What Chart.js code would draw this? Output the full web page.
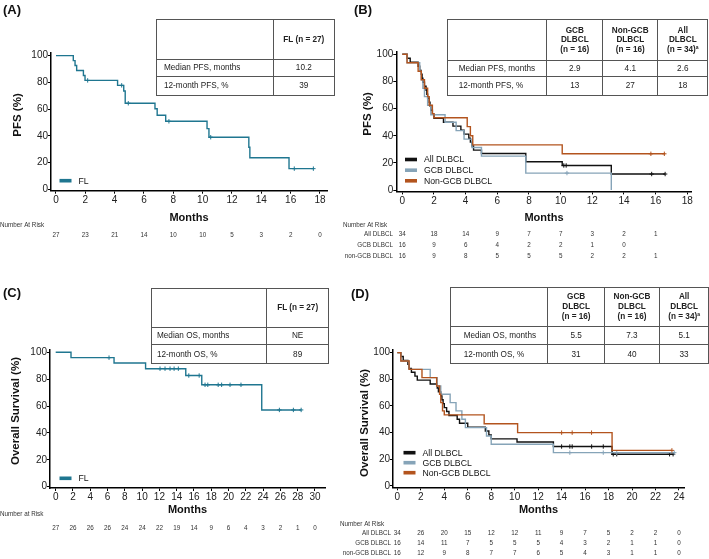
<!DOCTYPE html>
<html>
<head>
<meta charset="utf-8">
<script src="https://cdn.jsdelivr.net/npm/chart.js@4.4.1/dist/chart.umd.min.js"></script>
<style>
  body { margin: 0; background: #fff; width: 709px; height: 559px; position: relative; overflow: hidden;
         font-family: "Liberation Sans", Arial, sans-serif; color: #111; }
  canvas { position: absolute; left: 0; top: 0; }
  .plabel { position: absolute; font-weight: bold; font-size: 13px; line-height: 13px; }
  .ytitle { position: absolute; font-weight: bold; font-size: 11.5px; white-space: nowrap;
            transform: translate(-50%, -50%) rotate(-90deg); }
  table.st { position: absolute; border-collapse: collapse; table-layout: fixed; font-size: 8.2px; color: #222; }
  table.st td { border: 1px solid #555; padding: 0; vertical-align: middle; }
  table.st td.h { font-weight: bold; text-align: center; line-height: 9.7px; }
  table.st td.v { text-align: center; }
  table.st .sup { font-size: 5px; position: relative; top: -3px; line-height: 0; }
</style>
</head>
<body>
<script>
// ---- data: times (months) and survival (%) ----
const xTicksA = [0, 2, 4, 6, 8, 10, 12, 14, 16, 18];
const xTicksC = [0, 2, 4, 6, 8, 10, 12, 14, 16, 18, 20, 22, 24, 26, 28, 30];
const xTicksD = [0, 2, 4, 6, 8, 10, 12, 14, 16, 18, 20, 22, 24];
const yTicks = [0, 20, 40, 60, 80, 100];

// (A) FL PFS
const flPfsTime = [0, 1.18, 1.3, 1.41, 1.87, 1.98, 4.2, 4.62, 4.72, 6.75, 6.9, 7.48, 10.3, 10.43, 13.15, 13.22, 15.89, 17.55];
const flPfsSurv = [100, 96.3, 92.6, 88.9, 85.2, 81.5, 77.8, 73.6, 64.4, 60.3, 55.4, 50.9, 45.4, 39.0, 31.5, 23.6, 15.5, 15.5];
const flPfsCensor = [2.16, 4.48, 4.93, 7.7, 10.55, 16.25, 17.55];

// (B) DLBCL PFS
const allPfsTime = [0, 0.3, 0.5, 1.0, 1.1, 1.2, 1.25, 1.3, 1.4, 1.5, 1.55, 1.6, 1.7, 1.75, 1.8, 1.9, 2.0, 2.6, 3.2, 3.7, 3.9, 4.2, 4.3, 4.4, 4.5, 5.0, 7.8, 10.1, 13.2, 16.6];
const allPfsSurv = [100, 97.1, 94.1, 91.2, 88.2, 85.3, 82.4, 79.4, 76.5, 73.5, 70.6, 67.6, 64.7, 61.8, 58.8, 55.9, 52.9, 50.0, 47.1, 44.1, 41.2, 38.2, 35.3, 32.4, 29.4, 26.9, 20.9, 18.1, 11.8, 11.8];
const allPfsCensor = [10.2, 10.35, 15.75, 16.6];
const gcbPfsTime = [0, 0.3, 1.1, 1.2, 1.3, 1.4, 1.6, 1.8, 2.7, 3.4, 3.9, 4.4, 5.0, 7.8, 13.2];
const gcbPfsSurv = [100, 93.8, 87.5, 81.3, 75.0, 68.8, 62.5, 55.5, 50.0, 43.8, 37.5, 31.3, 25.0, 12.5, 0];
const gcbPfsCensor = [10.4];
const nonPfsTime = [0, 0.3, 1.0, 1.2, 1.4, 1.6, 1.7, 1.9, 2.0, 4.1, 4.3, 4.45, 10.1, 16.6];
const nonPfsSurv = [100, 93.8, 87.5, 81.3, 75.0, 68.8, 62.5, 56.3, 53.3, 46.7, 40.0, 33.3, 26.7, 26.7];
const nonPfsCensor = [15.7, 16.55];

// (C) FL OS
const flOsTime = [0, 1.77, 6.75, 10.4, 15.05, 16.9, 23.84, 28.4];
const flOsSurv = [100, 96.0, 92.0, 87.8, 82.7, 75.8, 57.1, 57.1];
const flOsCensor = [6.17, 12.07, 12.65, 13.23, 13.7, 14.19, 15.4, 16.6, 17.28, 17.6, 18.8, 19.2, 20.17, 21.44, 25.88, 27.5, 28.4];

// (D) DLBCL OS
const allOsTime = [0, 0.3, 0.5, 0.9, 1.0, 1.2, 1.5, 1.7, 2.8, 3.4, 3.5, 3.7, 3.8, 3.9, 4.0, 4.2, 4.4, 5.1, 5.3, 6.0, 7.5, 7.8, 8.0, 10.2, 13.3, 18.3, 23.6];
const allOsSurv = [100, 97.1, 94.1, 91.2, 88.2, 85.3, 82.4, 79.4, 76.5, 73.5, 70.6, 67.6, 64.7, 61.8, 58.8, 55.9, 52.9, 50.0, 47.1, 44.1, 41.2, 38.2, 35.3, 33.0, 29.6, 23.8, 23.8];
const allOsCensor = [14.0, 14.7, 14.9, 16.56, 17.55, 18.4, 18.7, 23.2, 23.5];
const gcbOsTime = [0, 0.3, 1.0, 2.8, 3.4, 3.7, 4.5, 5.0, 5.5, 5.8, 7.6, 8.0, 13.3, 23.6];
const gcbOsSurv = [100, 93.8, 87.5, 81.3, 75.0, 68.8, 62.5, 56.3, 50.0, 43.8, 37.5, 31.3, 25.0, 25.0];
const gcbOsCensor = [14.7, 17.55, 18.7, 23.6];
const nonOsTime = [0, 0.3, 1.0, 2.1, 3.35, 3.6, 3.7, 3.85, 4.0, 7.4, 10.25, 18.3, 23.4];
const nonOsSurv = [100, 93.8, 87.5, 81.3, 75.0, 68.8, 62.5, 56.3, 53.3, 46.7, 40.0, 26.7, 26.7];
const nonOsCensor = [14.0, 14.9, 16.55, 23.4];

// number at risk (one value per 2-month tick)
const riskA = [27, 23, 21, 14, 10, 10, 5, 3, 2, 0];
const riskBAll = [34, 18, 14, 9, 7, 7, 3, 2, 1];
const riskBGcb = [16, 9, 6, 4, 2, 2, 1, 0];
const riskBNon = [16, 9, 8, 5, 5, 5, 2, 2, 1];
const riskC = [27, 26, 26, 26, 24, 24, 22, 19, 14, 9, 6, 4, 3, 2, 1, 0];
const riskDAll = [34, 26, 20, 15, 12, 12, 11, 9, 7, 5, 2, 2, 0];
const riskDGcb = [16, 14, 11, 7, 5, 5, 5, 4, 3, 2, 1, 1, 0];
const riskDNon = [16, 12, 9, 8, 7, 7, 6, 5, 4, 3, 1, 1, 0];

// summary tables
const tableAHead = ['FL (n = 27)'];
const tableARows = [['Median PFS, months', '10.2'], ['12-month PFS, %', '39']];
const tableBHead = ['GCB\nDLBCL\n(n = 16)', 'Non-GCB\nDLBCL\n(n = 16)', 'All\nDLBCL\n(n = 34)^a'];
const tableBRows = [['Median PFS, months', '2.9', '4.1', '2.6'], ['12-month PFS, %', '13', '27', '18']];
const tableCHead = ['FL (n = 27)'];
const tableCRows = [['Median OS, months', 'NE'], ['12-month OS, %', '89']];
const tableDHead = tableBHead;
const tableDRows = [['Median OS, months', '5.5', '7.3', '5.1'], ['12-month OS, %', '31', '40', '33']];

// ---- styles ----
const FL_COLOR = '#1f7690';
const ALL_COLOR = '#111111';
const GCB_COLOR = '#86a4b8';
const NON_COLOR = '#b3541e';
const FONT = '"Liberation Sans", Arial, sans-serif';
const Y_W = 30;

function survAt(time, surv, t) {
  let v = surv[0];
  for (let i = 0; i < time.length; i++) if (time[i] <= t) v = surv[i];
  return v;
}

function buildChart(p) {
  const cv = document.createElement('canvas');
  cv.width = 709; cv.height = 559;
  cv.style.width = '709px'; cv.style.height = '559px';
  document.body.appendChild(cv);

  const datasets = [];
  const n = p.series.length;
  p.series.forEach((s, i) => {
    datasets.push({
      data: s.time.map((t, k) => ({ x: t, y: s.surv[k] })),
      borderColor: s.color, borderWidth: 1.4, pointRadius: 0, stepped: true, fill: false,
      order: 2 * (n - i)
    });
    datasets.push({
      data: s.censor.map(t => ({ x: t, y: survAt(s.time, s.surv, t) })),
      showLine: false, pointStyle: 'cross', pointRadius: 2.2, pointBorderWidth: 1,
      borderColor: s.color, backgroundColor: s.color,
      order: 2 * (n - i) - 1
    });
  });

  const a = p.area;
  new Chart(cv, {
    type: 'line',
    data: { datasets },
    options: {
      responsive: false, animation: false, devicePixelRatio: 1,
      layout: { padding: { left: a.left - Y_W, top: a.top, right: 709 - a.right, bottom: 559 - a.bottom - p.xH } },
      plugins: { legend: { display: false }, tooltip: { enabled: false } },
      scales: {
        x: {
          type: 'linear', min: p.xMin, max: p.xMax,
          afterFit: s => { s.height = p.xH; },
          afterBuildTicks: s => { s.ticks = p.xTicks.map(v => ({ value: v })); },
          ticks: { color: '#222', font: { family: FONT, size: 10, lineHeight: 1.1 }, padding: 1, maxRotation: 0, autoSkip: false },
          grid: { drawOnChartArea: false, drawTicks: true, tickLength: 3, color: '#000', lineWidth: 1 },
          border: { display: true, color: '#000', width: 1.5 },
          title: { display: true, text: 'Months', color: '#111', font: { family: FONT, size: 11, weight: 'bold' }, padding: 0 }
        },
        y: {
          min: -1, max: 102,
          afterFit: s => { s.width = Y_W; },
          afterBuildTicks: s => { s.ticks = yTicks.map(v => ({ value: v })); },
          ticks: { color: '#222', font: { family: FONT, size: 10 }, padding: 0 },
          grid: { drawOnChartArea: false, drawTicks: true, tickLength: 3, color: '#000', lineWidth: 1 },
          border: { display: true, color: '#000', width: 1.5 }
        }
      }
    },
    plugins: [{
      id: 'kmExtras',
      afterDraw(chart) {
        const ctx = chart.ctx;
        const x = chart.scales.x;
        ctx.save();
        // legend inside plot
        ctx.font = '8.7px ' + FONT;
        ctx.textBaseline = 'middle';
        ctx.textAlign = 'left';
        p.legend.forEach(l => {
          ctx.fillStyle = l.color;
          ctx.fillRect(p.legendX, l.y - 1.8, 12, 3.6);
          ctx.fillStyle = '#111';
          ctx.fillText(l.text, p.legendX + 19, l.y + 0.5);
        });
        // number at risk
        ctx.font = '6.3px ' + FONT;
        ctx.fillStyle = '#333';
        ctx.fillText(p.risk.label, p.risk.labelX, p.risk.labelY);
        p.risk.rows.forEach(r => {
          if (r.name) {
            ctx.textAlign = 'right';
            ctx.fillText(r.name, p.risk.nameX, r.y);
          }
          ctx.textAlign = 'center';
          r.values.forEach((v, k) => {
            ctx.fillText(String(v), x.getPixelForValue(p.xTicks[k]), r.y);
          });
        });
        ctx.restore();
      }
    }]
  });
}

buildChart({
  area: { left: 51, right: 327, top: 53, bottom: 190.7 }, xH: 33.9,
  xMin: -0.34, xMax: 18.48, xTicks: xTicksA,
  series: [{ time: flPfsTime, surv: flPfsSurv, censor: flPfsCensor, color: FL_COLOR }],
  legendX: 59.5, legend: [{ text: 'FL', color: FL_COLOR, y: 180.7 }],
  risk: { label: 'Number At Risk', labelX: 0, labelY: 225, nameX: 0, rows: [{ name: '', y: 235.3, values: riskA }] }
});

buildChart({
  area: { left: 396.3, right: 691.7, top: 51.6, bottom: 191.4 }, xH: 33.5,
  xMin: -0.379, xMax: 18.278, xTicks: xTicksA,
  series: [
    { time: allPfsTime, surv: allPfsSurv, censor: allPfsCensor, color: ALL_COLOR },
    { time: gcbPfsTime, surv: gcbPfsSurv, censor: gcbPfsCensor, color: GCB_COLOR },
    { time: nonPfsTime, surv: nonPfsSurv, censor: nonPfsCensor, color: NON_COLOR }
  ],
  legendX: 405, legend: [
    { text: 'All DLBCL', color: ALL_COLOR, y: 159.5 },
    { text: 'GCB DLBCL', color: GCB_COLOR, y: 170.2 },
    { text: 'Non-GCB DLBCL', color: NON_COLOR, y: 180.8 }
  ],
  risk: { label: 'Number At Risk', labelX: 343, labelY: 225, nameX: 393, rows: [
    { name: 'All DLBCL', y: 234.3, values: riskBAll },
    { name: 'GCB DLBCL', y: 245.7, values: riskBGcb },
    { name: 'non-GCB DLBCL', y: 256.7, values: riskBNon }
  ] }
});

buildChart({
  area: { left: 50, right: 325, top: 349.6, bottom: 488 }, xH: 28.6,
  xMin: -0.66, xMax: 31.16, xTicks: xTicksC,
  series: [{ time: flOsTime, surv: flOsSurv, censor: flOsCensor, color: FL_COLOR }],
  legendX: 59.5, legend: [{ text: 'FL', color: FL_COLOR, y: 478.3 }],
  risk: { label: 'Number at Risk', labelX: 0, labelY: 514.3, nameX: 0, rows: [{ name: '', y: 528.3, values: riskC }] }
});

buildChart({
  area: { left: 393, right: 684, top: 350, bottom: 487.3 }, xH: 29.3,
  xMin: -0.37, xMax: 24.43, xTicks: xTicksD,
  series: [
    { time: allOsTime, surv: allOsSurv, censor: allOsCensor, color: ALL_COLOR },
    { time: gcbOsTime, surv: gcbOsSurv, censor: gcbOsCensor, color: GCB_COLOR },
    { time: nonOsTime, surv: nonOsSurv, censor: nonOsCensor, color: NON_COLOR }
  ],
  legendX: 403.5, legend: [
    { text: 'All DLBCL', color: ALL_COLOR, y: 452.7 },
    { text: 'GCB DLBCL', color: GCB_COLOR, y: 462.7 },
    { text: 'Non-GCB DLBCL', color: NON_COLOR, y: 472.7 }
  ],
  risk: { label: 'Number At Risk', labelX: 340, labelY: 524.3, nameX: 391, rows: [
    { name: 'All DLBCL', y: 533.3, values: riskDAll },
    { name: 'GCB DLBCL', y: 543.3, values: riskDGcb },
    { name: 'non-GCB DLBCL', y: 553.3, values: riskDNon }
  ] }
});

// ---- html text: panel letters, y titles, tables ----
function addDiv(cls, text, left, top) {
  const d = document.createElement('div');
  d.className = cls; d.textContent = text;
  d.style.left = left + 'px'; d.style.top = top + 'px';
  document.body.appendChild(d);
}
addDiv('plabel', '(A)', 3, 3);
addDiv('plabel', '(B)', 354, 3);
addDiv('plabel', '(C)', 3, 286);
addDiv('plabel', '(D)', 351, 286.5);
addDiv('ytitle', 'PFS (%)', 17, 114.5);
addDiv('ytitle', 'PFS (%)', 367, 114);
addDiv('ytitle', 'Overall Survival (%)', 15, 411);
addDiv('ytitle', 'Overall Survival (%)', 363.5, 422.5);

function headHtml(s) {
  return s.split('\n').map(l => l.replace('^a', '<span class="sup">a</span>')).join('<br>');
}
function makeTable(left, top, colW, rowH, head, rows, padL) {
  const t = document.createElement('table');
  t.className = 'st';
  t.style.left = left + 'px'; t.style.top = top + 'px';
  t.style.width = colW.reduce((s, w) => s + w, 0) + 'px';
  let html = '<colgroup>' + colW.map(w => '<col style="width:' + w + 'px">').join('') + '</colgroup>';
  html += '<tr style="height:' + rowH[0] + 'px"><td></td>' + head.map(h => '<td class="h">' + headHtml(h) + '</td>').join('') + '</tr>';
  rows.forEach((r, i) => {
    html += '<tr style="height:' + rowH[i + 1] + 'px"><td style="padding-left:' + padL + 'px">' + r[0] + '</td>' +
      r.slice(1).map(v => '<td class="v">' + v + '</td>').join('') + '</tr>';
  });
  t.innerHTML = html;
  document.body.appendChild(t);
}
makeTable(156, 19.3, [116.7, 61.3], [39.7, 16.7, 19.6], tableAHead, tableARows, 7);
makeTable(446.7, 19.3, [99.6, 56, 55, 50], [40.7, 15.7, 19.3], tableBHead, tableBRows, 11);
makeTable(151, 288.3, [115, 62.3], [38.4, 17.6, 19], tableCHead, tableCRows, 5);
makeTable(449.7, 286.7, [97.6, 56.7, 55, 49.3], [39.3, 18, 19.3], tableDHead, tableDRows, 13);
</script>
</body>
</html>
